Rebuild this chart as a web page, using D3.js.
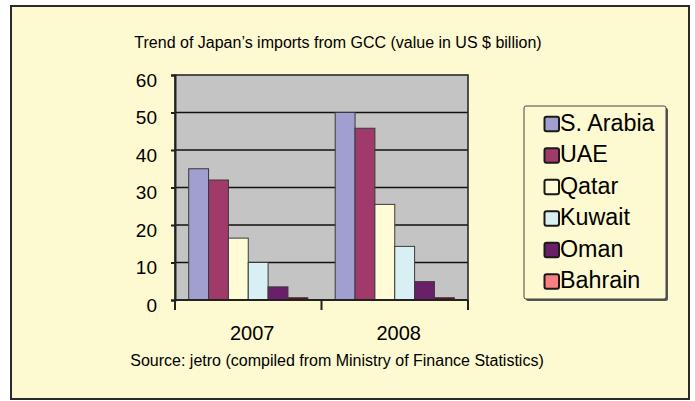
<!DOCTYPE html>
<html><head><meta charset="utf-8">
<script src="https://cdn.jsdelivr.net/npm/d3@7"></script>
<style>body{margin:0;background:#fff;}svg{display:block;font-family:"Liberation Sans",Arial,sans-serif;}</style>
</head><body>
<svg id="c" width="695" height="401"></svg>
<script>
const years = ["2007", "2008"];
const countries = ["S. Arabia", "UAE", "Qatar", "Kuwait", "Oman", "Bahrain"];
const values2007 = [35, 32, 16.5, 10, 3.5, 0.6];
const values2008 = [50, 45.8, 25.5, 14.3, 4.9, 0.6];
const barColors = ["#a09fd0", "#a03a6a", "#fffbd6", "#d8f0f4", "#6a2068", "#700808"];
const legendColors = ["#a09fd0", "#a03a6a", "#fffbd6", "#d8f0f4", "#6a2068", "#f88080"];
const yTicks = [0, 10, 20, 30, 40, 50, 60];
const titleText = "Trend of Japan\u2019s imports from GCC (value in US $ billion)";
const sourceText = "Source: jetro (compiled from Ministry of Finance Statistics)";

const data = years.map((y, i) => ({year: y, vals: (i === 0 ? values2007 : values2008)}));

const svg = d3.select("#c");
// outer frame
svg.append("rect").attr("x", 11).attr("y", 6).attr("width", 678).attr("height", 393)
  .attr("fill", "#fdf9d0").attr("stroke", "#2a2a2a").attr("stroke-width", 2);

const plot = {l: 175, r: 468, t: 75, b: 300};
const x0 = d3.scaleBand().domain(years).range([plot.l, plot.r]).padding(0);
const x1 = d3.scaleBand().domain(countries).range([0, x0.bandwidth()]).paddingInner(0).paddingOuter(0.69);
const y = d3.scaleLinear().domain([0, 60]).range([plot.b, plot.t]);

// plot background
svg.append("rect").attr("x", plot.l).attr("y", plot.t).attr("width", plot.r - plot.l).attr("height", plot.b - plot.t)
  .attr("fill", "#c4c4c4");

// gridlines
svg.append("g").selectAll("line").data(yTicks.filter(d => d > 0 && d < 60)).join("line")
  .attr("x1", plot.l).attr("x2", plot.r).attr("y1", d => y(d)).attr("y2", d => y(d))
  .attr("stroke", "#111").attr("stroke-width", 1.6);

// plot border
svg.append("rect").attr("x", plot.l).attr("y", plot.t).attr("width", plot.r - plot.l).attr("height", plot.b - plot.t)
  .attr("fill", "none").attr("stroke", "#2a2a2a").attr("stroke-width", 1.6);

// bars
const g = svg.append("g").selectAll("g").data(data).join("g")
  .attr("transform", d => `translate(${x0(d.year)},0)`);
g.selectAll("rect").data(d => d.vals.map((v, i) => ({c: countries[i], v, i}))).join("rect")
  .attr("x", d => x1(d.c)).attr("width", x1.bandwidth())
  .attr("y", d => y(d.v)).attr("height", d => y(0) - y(d.v))
  .attr("fill", d => barColors[d.i]).attr("stroke", "#3a3a3a").attr("stroke-width", 1);

// y axis
const yAxis = d3.axisLeft(y).tickValues(yTicks).tickSize(4).tickPadding(0);
const ya = svg.append("g").attr("transform", `translate(${plot.l},0)`).call(yAxis);
ya.select(".domain").attr("stroke", "#222").attr("stroke-width", 2);
ya.selectAll(".tick line").attr("stroke", "#222").attr("stroke-width", 2);
ya.selectAll(".tick text").attr("x", -18).attr("dy", 11).attr("font-size", 19)
  .attr("font-family", "Liberation Sans, Arial, sans-serif").attr("fill", "#000");

// x axis
const xa = svg.append("g").attr("transform", `translate(0,${plot.b})`);
xa.append("line").attr("x1", plot.l).attr("x2", plot.r).attr("y1", 0).attr("y2", 0)
  .attr("stroke", "#222").attr("stroke-width", 2);
const boundaries = years.map(d => x0(d)).concat([x0(years[years.length - 1]) + x0.bandwidth()]);
xa.selectAll("line.t").data(boundaries).join("line").attr("class", "t")
  .attr("x1", d => d).attr("x2", d => d).attr("y1", 0).attr("y2", 10)
  .attr("stroke", "#222").attr("stroke-width", 2);
xa.selectAll("text").data(years).join("text")
  .attr("x", d => x0(d) + x0.bandwidth() / 2 + 4).attr("y", 39.5)
  .attr("text-anchor", "middle").attr("font-size", 20).attr("fill", "#000").text(d => d);

// title & source
svg.append("text").attr("x", 338).attr("y", 48.3).attr("text-anchor", "middle")
  .attr("font-size", 16).attr("fill", "#000").text(titleText);
svg.append("text").attr("x", 337).attr("y", 365.7).attr("text-anchor", "middle")
  .attr("font-size", 16).attr("fill", "#000").text(sourceText);

// legend
const lg = {x: 524, y: 106, w: 142, h: 193};
svg.append("rect").attr("x", lg.x + 2).attr("y", lg.y + 2).attr("width", lg.w).attr("height", lg.h)
  .attr("fill", "#555").attr("rx", 2);
svg.append("rect").attr("x", lg.x).attr("y", lg.y).attr("width", lg.w).attr("height", lg.h)
  .attr("fill", "#fdf9d0").attr("stroke", "#444").attr("stroke-width", 1).attr("rx", 2);
const ly = d3.scalePoint().domain(countries).range([130.7, 288.3]);
const items = svg.append("g").selectAll("g").data(countries).join("g");
items.append("rect").attr("x", 544.5).attr("y", d => ly(d) - 14).attr("width", 14.5).attr("height", 14.5)
  .attr("rx", 2).attr("fill", (d, i) => legendColors[i]).attr("stroke", "#1a1a1a").attr("stroke-width", 2);
items.append("text").attr("x", 560).attr("y", d => ly(d)).attr("font-size", 23.3).attr("fill", "#000").text(d => d);
</script>
</body></html>
